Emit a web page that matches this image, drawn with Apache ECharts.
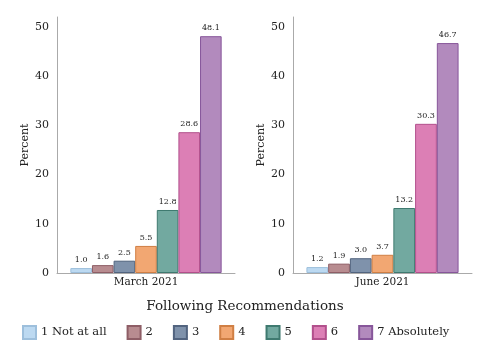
<!DOCTYPE html>
<html><head><meta charset="utf-8">
<script src="https://cdn.jsdelivr.net/npm/echarts@6/dist/echarts.min.js"></script>
<style>html,body{margin:0;padding:0;background:#fff}#c{width:490px;height:356px}</style>
</head><body><div id="c"></div>
<script>
const periods = ['March 2021', 'June 2021'];
const levels = ['1 Not at all', '2', '3', '4', '5', '6', '7 Absolutely'];
const march = [1.0, 1.6, 2.5, 5.5, 12.8, 28.6, 48.1];
const june = [1.2, 1.9, 3.0, 3.7, 13.2, 30.3, 46.7];
const yTicks = [0, 10, 20, 30, 40, 50];
const legendTitle = 'Following Recommendations';
const colors = ['#bcd9f1', '#b88c90', '#7f92ab', '#f2a772', '#72a9a0', '#dc7fb5', '#b28abd'];
const borders = ['#9dbfdc', '#8e5e66', '#52647f', '#d07f44', '#3f7a70', '#b2508c', '#87569a'];
const FONT = 'DejaVu Serif';

const series = [];
[march, june].forEach((vals, gi) => {
  levels.forEach((name, i) => {
    series.push({
      type: 'bar', name: name, xAxisIndex: gi, yAxisIndex: gi,
      data: [vals[i]], barGap: '0%', barCategoryGap: '15%',
      itemStyle: { color: colors[i], borderColor: borders[i], borderWidth: 1 },
      label: { show: true, position: 'top', distance: 4, formatter: p => p.value.toFixed(1),
        fontFamily: FONT, fontSize: 8, color: '#222' }
    });
  });
});

const yAxisBase = gi => ({
  type: 'value', gridIndex: gi, min: 0, max: 52, interval: 10,
  name: 'Percent', nameLocation: 'middle', nameGap: 25, nameRotate: 90,
  nameTextStyle: { fontFamily: FONT, fontSize: 11, color: '#222' },
  axisLine: { show: true, lineStyle: { color: '#aaa' } },
  axisTick: { show: false }, splitLine: { show: false },
  axisLabel: { fontFamily: FONT, fontSize: 11, color: '#222', margin: 8,
    formatter: v => yTicks.includes(v) ? String(v) : '' }
});
const xAxisBase = gi => ({
  type: 'category', gridIndex: gi, data: [periods[gi]],
  axisLine: { show: true, lineStyle: { color: '#aaa' } }, axisTick: { show: false },
  axisLabel: { fontFamily: FONT, fontSize: 10.5, color: '#222', margin: 4 }
});

const chart = echarts.init(document.getElementById('c'));
chart.setOption({
  animation: false,
  title: { text: legendTitle, left: 'center', top: 294,
    textStyle: { fontFamily: FONT, fontSize: 13.5, fontWeight: 'normal', color: '#222' } },
  legend: { data: levels, bottom: 11, left: 17, itemWidth: 13, itemHeight: 13, itemGap: 20,
    icon: 'rect', textStyle: { fontFamily: FONT, fontSize: 11.5, color: '#222' } },
  grid: [
    { left: 57, right: 255, top: 17, bottom: 83 },
    { left: 293, right: 18, top: 17, bottom: 83 }
  ],
  xAxis: [xAxisBase(0), xAxisBase(1)],
  yAxis: [yAxisBase(0), yAxisBase(1)],
  series: series
});
</script></body></html>
